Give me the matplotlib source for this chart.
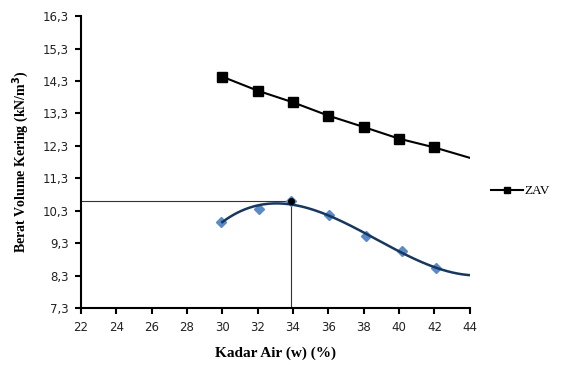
import numpy as np
import matplotlib.pyplot as plt
from matplotlib.ticker import FuncFormatter

# ZAV (zero air voids) line
zav_w = [30, 32, 34, 36, 38, 40, 42, 44]
zav_gamma = [14.43, 14.0, 13.64, 13.23, 12.88, 12.52, 12.25, 11.93]

# compaction test points
w_test = [29.95, 32.07, 33.9, 36.03, 38.1, 40.17, 42.06]
gamma_test = [9.96, 10.36, 10.6, 10.17, 9.51, 9.05, 8.54]

# optimum from the chart
w_opt = 33.9
gamma_max = 10.6

plt.rcParams['font.family'] = ['Liberation Serif', 'DejaVu Serif']

fig = plt.figure(figsize=(5.62, 3.65), dpi=100)
ax = fig.add_axes([0.144, 0.156, 0.692, 0.8])

# polynomial trendline through test points, extended to 44
coef = np.polyfit(w_test, gamma_test, 3)
wf = np.linspace(30, 44, 200)
ax.plot(wf, np.polyval(coef, wf), color='#17375e', lw=1.8, zorder=3)
ax.plot(w_test, gamma_test, ls='none', marker='D', ms=5,
        color='#5b8bc6', zorder=2)

# guide lines to the optimum
ax.plot([22, w_opt], [gamma_max, gamma_max], color='#333333', lw=0.8, zorder=1)
ax.plot([w_opt, w_opt], [gamma_max, 7.3], color='#333333', lw=0.8, zorder=1)
ax.plot([w_opt], [gamma_max], marker='o', ms=4, color='black', zorder=4)

ax.plot(zav_w, zav_gamma, color='black', lw=1.5, marker='s', ms=6.5,
        markevery=list(range(len(zav_w) - 1)), label='ZAV', zorder=3)

ax.set_xlim(22, 44)
ax.set_ylim(7.3, 16.3)
ax.set_xticks(np.arange(22, 45, 2))
ax.set_yticks(np.arange(7.3, 16.4, 1.0))
ax.yaxis.set_major_formatter(FuncFormatter(lambda v, p: f'{v:.1f}'.replace('.', ',')))

for s in ['top', 'right']:
    ax.spines[s].set_visible(False)
for s in ['left', 'bottom']:
    ax.spines[s].set_linewidth(1.5)
ax.tick_params(direction='out', length=4, width=1.5, labelsize=8.5, pad=5)
for lab in ax.get_xticklabels() + ax.get_yticklabels():
    lab.set_family('DejaVu Sans')
    lab.set_color('#222222')

ax.set_xlabel('Kadar Air (w) (%)', fontsize=11, fontweight='bold', labelpad=9)
ax.set_ylabel('Berat Volume Kering (kN/m$^\\mathbf{3}$)', fontsize=10,
              fontweight='bold', labelpad=8)

leg = ax.legend(loc='center left', bbox_to_anchor=(1.025, 0.40), frameon=False,
                fontsize=9.5, handlelength=2.4, handletextpad=0.1, markerscale=0.7)

fig.savefig('out.png', dpi=100)
